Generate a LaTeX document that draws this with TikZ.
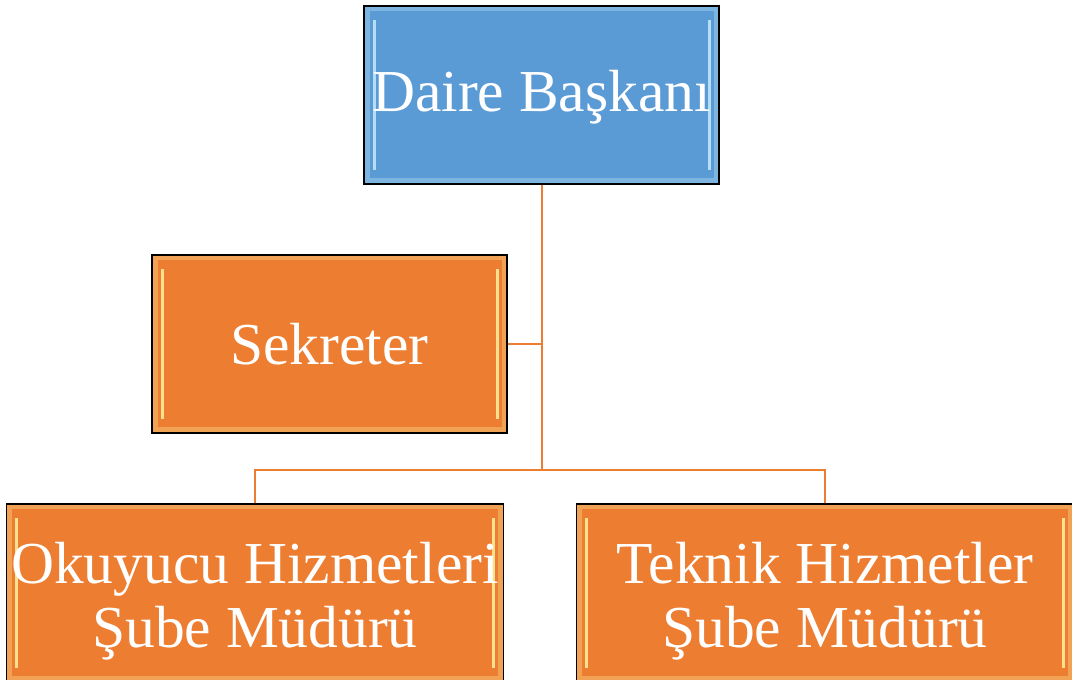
\documentclass[tikz,border=0pt]{standalone}
\usepackage{fontspec}
\setmainfont{Liberation Serif}
\usetikzlibrary{positioning}
\definecolor{headblue}{RGB}{91,155,213}
\definecolor{unitorange}{RGB}{237,125,49}
\newcommand{\lowerby}[1]{\rule{0pt}{#1}}

\begin{document}
\begin{tikzpicture}[x=1pt,y=1pt]
    \tikzstyle{every node} = [font=\fontsize{59.5}{64}\selectfont]
    \tikzset{bevel/.style={path picture={
        \draw[#1, opacity=0.3, line width=5pt]
        ([shift={(3pt,3pt)}]path picture bounding box.south west) rectangle ([shift={(-3pt,-3pt)}]path picture bounding box.north east);
        \draw[#1, opacity=0.8, line width=3pt]
        ([shift={(10pt,14pt)}]path picture bounding box.south west) -- ([shift={(10pt,-14pt)}]path picture bounding box.north west);
        \draw[#1, opacity=0.8, line width=3pt]
        ([shift={(-10pt,14pt)}]path picture bounding box.south east) -- ([shift={(-10pt,-14pt)}]path picture bounding box.north east);
    }}}
    \tikzstyle{unit} = [draw=black, line width=1.5pt, rectangle, text=white, align=center, inner sep=0pt, minimum height=178pt]
    \tikzstyle{head} = [unit, fill=headblue, bevel=cyan!20, minimum width=355pt]
    \tikzstyle{staff} = [unit, fill=unitorange, bevel=yellow!35, minimum width=355pt]
    \tikzstyle{branch} = [unit, fill=unitorange, bevel=yellow!35, minimum width=497pt]
    \tikzstyle{link} = [draw=unitorange, line width=2pt]
    \useasboundingbox (0,0) rectangle (1072,680);
    % place nodes
    \node[head](baskan) at (541.5,585){\lowerby{45pt}Daire Başkanı};
    \node[staff](sekreter) at (329.5,336){Sekreter};
    \node[branch](okuyucu) at (255,87){\lowerby{58pt}Okuyucu Hizmetleri\\Şube Müdürü};
    \node[branch](teknik) at (825,87){\lowerby{58pt}Teknik Hizmetler\\Şube Müdürü};
    % Connections
    \coordinate (split) at (baskan.south |- 0,210);
    \draw[link] (baskan.south)--(split);
    \draw[link] (sekreter.east)--(sekreter.east -| split);
    \draw[link] (okuyucu.north) |- (split) -| (teknik.north);
\end{tikzpicture}
\end{document}
